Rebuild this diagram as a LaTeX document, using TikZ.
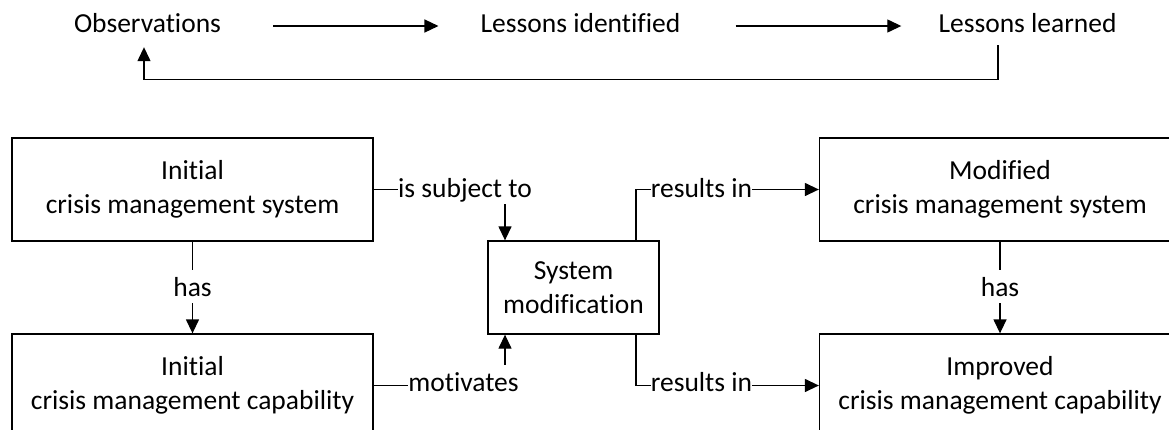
\documentclass[tikz,border=0pt]{standalone}
\usepackage{fontspec}
\setmainfont{Carlito}[Ligatures=NoCommon]
\usetikzlibrary{arrows.meta}
\begin{document}
\begin{tikzpicture}[x=1pt,y=1pt,
  font=\fontsize{27.5pt}{33.5pt}\selectfont,
  box/.style={draw, line width=1.3pt, minimum width=361pt, minimum height=103pt, inner sep=0pt, align=center},
  lbl/.style={inner sep=0pt, text height=26.2pt, text depth=7.4pt, fill=white},
  ttl/.style={inner sep=0pt, text height=26.2pt, text depth=7.4pt},
  conn/.style={line width=1.3pt, -{Triangle[length=14pt,width=13pt]}}]
\useasboundingbox (0,0) rectangle (1169,-429);
\clip (0,0) rectangle (1169,-429);
% title row
\node[ttl, anchor=base] (obs) at (147.5,-32) {Observations};
\node[ttl, anchor=base] (lid) at (580.5,-32) {Lessons identified};
\node[ttl, anchor=base] (lll) at (1027.5,-32) {Lessons learned};
\draw[conn] ([xshift=52pt,yshift=6pt]obs.base east) -- ([xshift=-42pt,yshift=6pt]lid.base west);
\draw[conn] ([xshift=55pt,yshift=6pt]lid.base east) -- ([xshift=-37pt,yshift=6pt]lll.base west);
\draw[conn] ([xshift=-29.5pt,yshift=-5.6pt]lll.south) -- ++(0,-34) -| ([xshift=-3.5pt,yshift=-7.6pt]obs.south);
% boxes
\node[box] (ics) at (192.5,-189.5) {Initial\\crisis management system};
\node[box] (icc) at (192.5,-385.5) {Initial\\crisis management capability};
\node[box, minimum width=171pt, minimum height=93pt] (sm) at (573.5,-287.5) {System\\modification};
\node[box] (mcs) at (1000,-189.5) {Modified\\crisis management system};
\node[box] (imc) at (1000,-385.5) {Improved\\crisis management capability};
% connectors
\draw[conn] (ics.south) -- (icc.north);
\draw[conn] (mcs.south) -- (imc.north);
\draw[conn] (ics.east) -| ([xshift=-68.5pt]sm.north);
\draw[conn] (icc.east) -| ([xshift=-68.5pt]sm.south);
\draw[conn] ([xshift=62.5pt]sm.north) |- (mcs.west);
\draw[conn] ([xshift=62.5pt]sm.south) |- (imc.west);
% labels
\node[lbl, anchor=base] (has1) at (192.5,-296) {has};
\node[lbl, anchor=base] (has2) at (1000,-296) {has};
\node[lbl, anchor=base] (ist) at (465,-197) {is subject to};
\node[lbl, anchor=base] (mot) at (463.5,-391) {motivates};
\node[lbl, anchor=base] (ri1) at (701.5,-197) {results in};
\node[lbl, anchor=base] (ri2) at (701.5,-391) {results in};
\end{tikzpicture}
\end{document}
